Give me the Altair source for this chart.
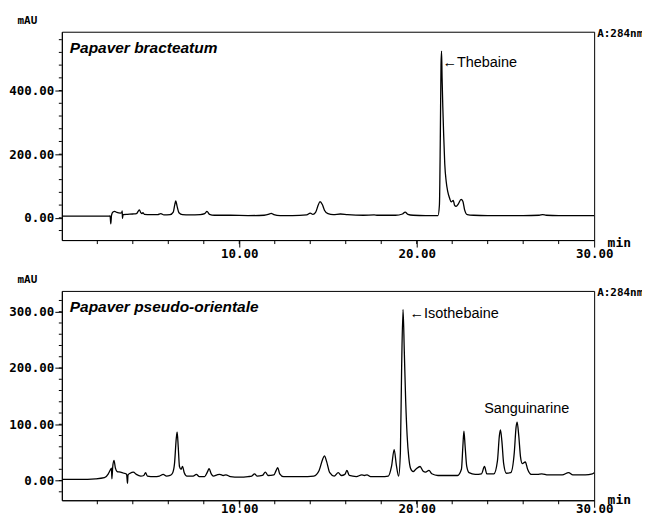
import altair as alt
import pandas as pd

# ---- Panel 1: Papaver bracteatum (time in min, absorbance in mAU) ----
t1 = [0.0, 1.0, 2.0, 2.6, 2.72, 2.76, 2.80, 2.88, 2.98, 3.10, 3.30, 3.38, 3.40, 3.42, 3.45,
      3.7, 4.0, 4.2, 4.3, 4.37, 4.45, 4.52, 4.57, 4.65, 5.0, 5.4, 5.58, 5.75, 6.1, 6.28,
      6.36, 6.42, 6.50, 6.6, 6.8, 7.2, 7.8, 8.05, 8.18, 8.32, 8.6, 9.5, 10.5, 11.4, 11.7,
      11.8, 11.95, 12.3, 13.0, 13.8, 14.0, 14.15, 14.3, 14.45, 14.55, 14.68, 14.8, 15.0,
      15.3, 15.7, 16.1, 17.0, 17.6, 17.8, 18.8, 19.2, 19.35, 19.5, 19.8, 20.5, 21.2, 21.28,
      21.33, 21.37, 21.40, 21.43, 21.47, 21.52, 21.58, 21.66, 21.75, 21.85, 21.95, 22.06,
      22.13, 22.22, 22.35, 22.5, 22.6, 22.7, 22.85, 23.2, 24.0, 25.0, 26.0, 26.9, 27.1,
      27.3, 28.0, 29.0, 30.0]
v1 = [5, 5, 5, 5, 6, -19, 8, 18, 20, 17, 15, 16, 22, -2, 10,
      11, 12, 13, 20, 25, 16, 13, 16, 11, 10, 10, 13, 9, 10, 18,
      40, 53, 35, 16, 10, 9, 10, 13, 20, 11, 8, 8, 7, 8, 12,
      14, 10, 7, 7, 9, 15, 11, 17, 40, 51, 42, 24, 13,
      10, 12, 10, 8, 9, 8, 8, 12, 18, 11, 8, 7, 7, 40,
      250, 480, 524, 440, 350, 260, 170, 115, 82, 62, 50, 55,
      40, 36, 44, 58, 52, 25, 10, 8, 7, 7, 7, 8, 10,
      8, 7, 7, 7]

# ---- Panel 2: Papaver pseudo-orientale ----
t2 = [0.0, 1.0, 1.9, 2.4, 2.62, 2.72, 2.80, 2.82, 2.87, 2.94, 3.02, 3.12, 3.3, 3.5, 3.65,
      3.68, 3.70, 3.73, 3.85, 4.03, 4.2, 4.45, 4.62, 4.72, 4.82, 5.2, 5.5, 5.71, 5.9, 6.1,
      6.25, 6.35, 6.45, 6.5, 6.56, 6.63, 6.72, 6.8, 6.9, 7.05, 7.4, 7.58, 7.75, 8.05, 8.2,
      8.3, 8.42, 8.55, 8.75, 8.9, 9.1, 9.25, 9.5, 10.0, 10.5, 10.7, 10.86, 11.0, 11.3,
      11.47, 11.62, 11.95, 12.08, 12.17, 12.28, 12.5, 13.0, 13.5, 14.2, 14.5, 14.7, 14.8,
      14.92, 15.1, 15.35, 15.58, 15.75, 15.95, 16.07, 16.2, 16.6, 16.9, 17.05, 17.2, 17.4,
      18.0, 18.4, 18.58, 18.73, 18.85, 18.98, 19.08, 19.15, 19.23, 19.30, 19.38, 19.46,
      19.55, 19.65, 19.8, 19.95, 20.19, 20.35, 20.5, 20.69, 20.85, 21.2, 21.8, 22.3, 22.52,
      22.6, 22.66, 22.73, 22.82, 22.95, 23.3, 23.65, 23.82, 23.95, 24.35, 24.55, 24.66,
      24.72, 24.8, 24.9, 25.05, 25.3, 25.5, 25.6, 25.66, 25.75, 25.85, 25.95, 26.12, 26.25,
      26.45, 26.8, 27.05, 27.4, 28.2, 28.56, 28.8, 29.5, 29.9, 30.0]
v2 = [2, 2, 3, 5, 12, 18, 22, 3, 25, 36, 22, 16, 15, 13, 11,
      2, -5, 10, 13, 15, 11, 8, 9, 14, 8, 7, 8, 11, 8, 9,
      14, 30, 75, 86, 60, 25, 20, 25, 14, 8, 8, 11, 7, 7, 15,
      21, 12, 8, 10, 11, 9, 10, 7, 6, 7, 8, 12, 8, 9,
      15, 9, 10, 18, 23, 12, 7, 7, 7, 8, 18, 38, 44,
      34, 14, 8, 14, 9, 11, 18, 9, 7, 10, 9, 10, 7,
      7, 8, 25, 55, 28, 8, 50, 200, 304, 230, 140, 80,
      42, 22, 16, 20, 25, 17, 15, 18, 12, 9, 9, 9, 20,
      60, 88, 60, 25, 14, 11, 12, 25, 12, 12, 35, 80,
      90, 70, 30, 13, 14, 50, 95, 104, 80, 42, 30, 33, 20,
      11, 11, 12, 10, 10, 14, 10, 10, 12, 14]

titles = ["Papaver bracteatum", "Papaver pseudo-orientale"]
y_domains = [[-70, 585], [-35, 337]]
y_major_ticks = [[0, 200, 400], [0, 100, 200, 300]]
y_minor_ticks = [list(range(-40, 581, 40)), list(range(-20, 331, 20))]
x_major_ticks = [10, 20, 30]
x_minor_ticks = list(range(2, 30, 2))
annotations = [
    {"t": [21.45], "v": [487], "label": ["\u2190Thebaine"]},
    {"t": [19.6, 23.8], "v": [296, 128], "label": ["\u2190Isothebaine", "Sanguinarine"]},
]

W = 534
MONO = "DejaVu Sans Mono"
SANS = "Liberation Sans"


def panel(t, v, title, ydom, ymaj, ymin, ann, h, xlab_pad, min_y):
    df = pd.DataFrame({"t": t, "v": v})
    xs = alt.Scale(domain=[0, 30], nice=False, zero=False)
    ys = alt.Scale(domain=ydom, nice=False, zero=False)
    xaxis = alt.Axis(
        values=x_major_ticks, format=".2f", tickSize=7,
        labelFlush=False, labelOverlap=False, labelPadding=xlab_pad, grid=False,
        title="min", titleAngle=0, titleAlign="left", titleBaseline="alphabetic",
        titleX=W + 13, titleY=min_y, titleFont=MONO, titleFontWeight="bold", titleFontSize=13,
    )
    yaxis = alt.Axis(
        values=ymaj, format=".2f", tickSize=7,
        labelOverlap=False, labelPadding=1, grid=False,
        title="mAU", titleAngle=0, titleAlign="left", titleBaseline="middle",
        titleX=-45, titleY=-11, titleFont=MONO, titleFontWeight="bold", titleFontSize=11,
    )
    line = alt.Chart(df).mark_line(color="black", strokeWidth=1.3, interpolate="monotone", clip=True).encode(
        x=alt.X("t:Q", scale=xs, axis=xaxis),
        y=alt.Y("v:Q", scale=ys, axis=yaxis),
    )
    yminor = alt.Chart(pd.DataFrame({"tick": ymin})).mark_rule(color="black", strokeWidth=1).encode(
        y=alt.Y("tick:Q", scale=ys), x=alt.value(-3), x2=alt.value(0)
    )
    xminor = alt.Chart(pd.DataFrame({"tick": x_minor_ticks})).mark_rule(color="black", strokeWidth=1).encode(
        x=alt.X("tick:Q", scale=xs), y=alt.value(h), y2=alt.value(h + 4)
    )
    labels = alt.Chart(pd.DataFrame(ann)).mark_text(
        align="left", baseline="middle", font=SANS, fontSize=14.5, color="black"
    ).encode(x=alt.X("t:Q", scale=xs), y=alt.Y("v:Q", scale=ys), text="label:N")
    ttl = alt.Chart(pd.DataFrame({"label": [title]})).mark_text(
        align="left", baseline="middle", font=SANS, fontSize=15.5, fontStyle="italic", fontWeight="bold", color="black"
    ).encode(x=alt.value(8), y=alt.value(16), text="label:N")
    nm = alt.Chart(pd.DataFrame({"label": ["A:284nm"]})).mark_text(
        align="left", baseline="middle", font=MONO, fontSize=11, fontWeight="bold", color="black"
    ).encode(x=alt.value(W + 3), y=alt.value(2), text="label:N")
    return alt.layer(line, yminor, xminor, labels, ttl, nm).properties(width=W, height=h)


top = panel(t1, v1, titles[0], y_domains[0], y_major_ticks[0], y_minor_ticks[0], annotations[0],
            209, 0, 6)
bottom = panel(t2, v2, titles[1], y_domains[1], y_major_ticks[1], y_minor_ticks[1], annotations[1],
               210, -5, 3)

chart = alt.vconcat(top, bottom, spacing=13).properties(
    padding={"left": 0, "top": 5, "right": -2, "bottom": 0}
).configure_view(stroke="black", strokeWidth=1).configure_axis(
    domainColor="black", tickColor="black", labelColor="black", titleColor="black",
    labelFont=MONO, labelFontWeight="bold", labelFontSize=12.5, domainWidth=1, tickWidth=1,
)

chart.save("out.html", embed_options={"renderer": "svg", "actions": False})
